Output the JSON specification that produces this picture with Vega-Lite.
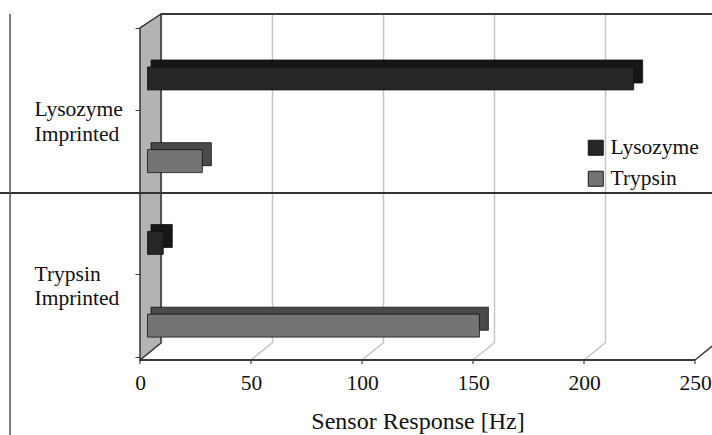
{
  "$schema": "https://vega.github.io/schema/vega-lite/v6.json",
  "width": 555,
  "height": 329,
  "autosize": {"type": "none"},
  "padding": {"left": 140, "top": 14, "right": 17, "bottom": 92},
  "background": "white",
  "config": {"view": {"stroke": null}, "font": "Liberation Serif"},
  "datasets": {
    "bars": [
      {"imprint": "Lysozyme Imprinted", "protein": "Lysozyme", "response": 219},
      {"imprint": "Lysozyme Imprinted", "protein": "Trypsin", "response": 24.7},
      {"imprint": "Trypsin Imprinted", "protein": "Lysozyme", "response": 7.1},
      {"imprint": "Trypsin Imprinted", "protein": "Trypsin", "response": 149.5}
    ],
    "ticks": [{"v": 0}, {"v": 50}, {"v": 100}, {"v": 150}, {"v": 200}, {"v": 250}],
    "one": [{}]
  },
  "resolve": {"axis": {"y": "independent"}, "scale": {"yOffset": "independent"}},
  "layer": [
    {
      "data": {"name": "ticks"},
      "mark": {"type": "rule", "x2Offset": -21, "y2Offset": 17, "strokeWidth": 1.5},
      "encoding": {
        "x": {
          "field": "v", "type": "quantitative",
          "scale": {"domain": [0, 250], "range": [21, 576], "nice": false, "zero": true},
          "axis": {"orient": "bottom", "offset": 17, "grid": true, "gridColor": "#c6c6c6", "gridWidth": 1.5, "domain": false, "ticks": false,
            "values": [0, 50, 100, 150, 200, 250], "labelOffset": -21, "labelPadding": 12.5, "labelFlush": false, "labelOverlap": false, "labelBound": false,
            "labelFont": "Liberation Serif", "labelFontSize": 21.5, "labelColor": "#111", "labelBaseline": "top",
            "title": "Sensor Response [Hz]", "titleFont": "Liberation Serif", "titleFontSize": 24, "titleFontWeight": "normal", "titleColor": "#111",
            "titleX": 277.5, "titleY": 68, "titleBaseline": "alphabetic", "titleAlign": "center"}
        },
        "x2": {"field": "v"},
        "y": {"value": "height"},
        "y2": {"value": "height"},
        "color": {"condition": {"test": "datum.v == 250", "value": "#3a3a3a"}, "value": "#c4c4c4"}
      }
    },
    {
      "data": {"name": "ticks"},
      "mark": {"type": "rule", "xOffset": -21, "yOffset": 17, "y2Offset": 21, "color": "#444", "strokeWidth": 1.2},
      "encoding": {
        "x": {"field": "v", "type": "quantitative"},
        "y": {"value": "height"},
        "y2": {"value": "height"}
      }
    },
    {
      "data": {"name": "one"},
      "mark": {"type": "rule", "xOffset": -21, "x2Offset": -21, "yOffset": 17, "color": "#3a3a3a", "strokeWidth": 2},
      "encoding": {
        "x": {"datum": 0, "type": "quantitative"},
        "x2": {"datum": 250},
        "y": {"value": "height"}
      }
    },
    {
      "data": {"name": "one"},
      "mark": {"type": "rule", "color": "#3a3a3a", "strokeWidth": 2},
      "encoding": {
        "x": {"datum": 0, "type": "quantitative"},
        "x2": {"datum": 262},
        "y": {"value": 0}
      }
    },
    {
      "data": {"name": "one"},
      "mark": {"type": "point", "shape": "M0,0L-21,14L-21,346L0,329Z", "size": 4, "filled": true, "color": "#b3b3b3", "stroke": "#333", "strokeWidth": 1.5, "opacity": 1},
      "encoding": {
        "x": {"datum": 0, "type": "quantitative"},
        "y": {"value": 0}
      }
    },
    {
      "data": {"name": "bars"},
      "mark": {"type": "bar", "xOffset": -4.5, "x2Offset": -10, "stroke": "#111", "strokeWidth": 0.8},
      "encoding": {
        "y": {
          "field": "imprint", "type": "nominal",
          "scale": {"domain": ["Lysozyme Imprinted", "Trypsin Imprinted"], "paddingInner": 0, "paddingOuter": 0},
          "axis": {"orient": "left", "offset": 14, "translate": 14.5, "domain": false, "labels": false, "ticks": true, "tickBand": "extent", "tickSize": 5, "tickColor": "#444", "grid": false, "title": null}
        },
        "yOffset": {"field": "protein", "type": "nominal", "scale": {"domain": ["Lysozyme", "Trypsin"], "paddingInner": 0.722, "paddingOuter": 0.3555, "align": 0.782}},
        "x": {"field": "response", "type": "quantitative", "stack": null},
        "x2": {"datum": 0},
        "fill": {"condition": {"test": "datum.protein == 'Lysozyme'", "value": "#161616"}, "value": "#4a4a4a"}
      }
    },
    {
      "data": {"name": "bars"},
      "mark": {"type": "bar", "xOffset": -13.5, "x2Offset": -13.5, "stroke": "#111", "strokeWidth": 0.8, "opacity": 1},
      "encoding": {
        "y": {
          "field": "imprint", "type": "nominal",
          "axis": {"orient": "left", "offset": 14, "translate": 14.5, "domain": false, "ticks": true, "tickSize": 5, "tickColor": "#444", "grid": false, "title": null,
            "labelAlign": "left", "labelBaseline": "top", "labelPadding": 101, "labelOffset": -11, "labelLineHeight": 24.5,
            "labelExpr": "split(datum.label, ' ')", "labelFont": "Liberation Serif", "labelFontSize": 21.5, "labelColor": "#111"}
        },
        "yOffset": {"field": "protein", "type": "nominal", "scale": {"domain": ["Lysozyme", "Trypsin"], "paddingInner": 0.722, "paddingOuter": 0.3555, "align": 0.9}},
        "x": {"field": "response", "type": "quantitative", "stack": null},
        "x2": {"datum": 0},
        "color": {
          "field": "protein", "type": "nominal",
          "scale": {"domain": ["Lysozyme", "Trypsin"], "range": ["#262626", "#747474"]},
          "legend": {"orient": "none", "legendX": 445, "legendY": 123, "title": null, "padding": 0, "symbolType": "square", "symbolSize": 225,
            "symbolStrokeColor": "#1a1a1a", "symbolStrokeWidth": 1, "symbolOpacity": 1, "labelFont": "Liberation Serif", "labelFontSize": 21.5,
            "labelColor": "#111", "labelOffset": 4, "rowPadding": 8}
        }
      }
    },
    {
      "data": {"name": "one"},
      "mark": {"type": "rule", "color": "#333", "strokeWidth": 1.8, "yOffset": 14.5},
      "encoding": {
        "y": {"datum": "Trypsin Imprinted", "type": "nominal", "bandPosition": 0, "axis": null},
        "x": {"datum": -75, "type": "quantitative"},
        "x2": {"datum": 265}
      }
    },
    {
      "data": {"name": "one"},
      "mark": {"type": "rule", "color": "#555", "strokeWidth": 1.5, "y2Offset": 95},
      "encoding": {
        "x": {"datum": -68, "type": "quantitative"},
        "y": {"value": 0},
        "y2": {"value": "height"}
      }
    }
  ]
}
